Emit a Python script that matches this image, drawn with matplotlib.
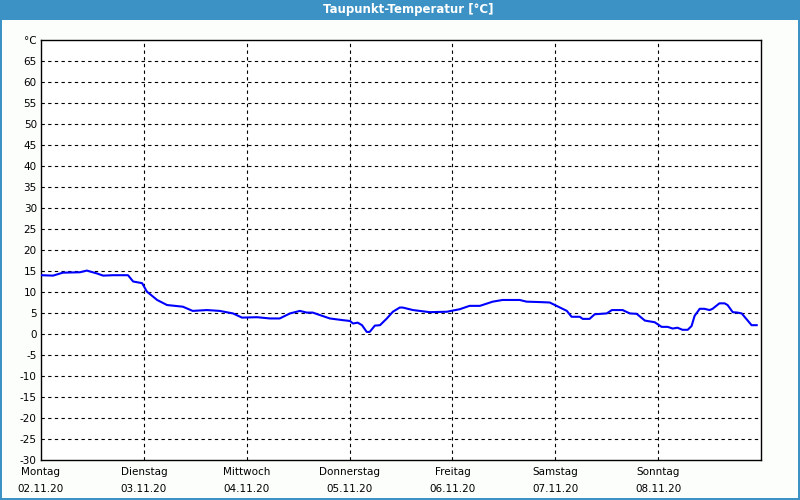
import matplotlib
matplotlib.use("Agg")
import matplotlib.pyplot as plt
from matplotlib.patches import Rectangle

# dew point readings, hours since Monday 00:00
hours = [0, 2.8, 5.1, 9.1, 10.7, 13.1, 14.5, 16.8, 20.3, 21.5, 23.6, 24.7, 27.1, 29.4,
         33.1, 35.4, 38.7, 41.7, 44.8, 46.9, 50.4, 53.4, 55.7, 58.1, 60.4, 62.0, 63.4,
         65.1, 67.4, 70.4, 72.1, 72.8, 73.9, 74.9, 76.0, 76.7, 77.9, 79.1, 80.7, 82.1,
         83.7, 84.4, 86.8, 90.7, 94.7, 97.7, 100.0, 102.4, 105.4, 107.7, 111.7, 113.3,
         116.4, 118.7, 120.3, 122.7, 123.8, 125.7, 126.4, 128.0, 129.2, 132.0, 133.2,
         135.7, 137.4, 139.0, 140.9, 143.2, 144.8, 146.2, 147.4, 148.5, 149.7, 150.9,
         151.8, 152.5, 153.7, 154.8, 156.0, 156.7, 158.3, 159.5, 160.2, 161.4, 162.5,
         163.5, 165.8, 167.0]
dewpoint = [14.0, 13.9, 14.6, 14.7, 15.1, 14.4, 13.9, 14.0, 14.0, 12.5, 12.1, 10.1, 8.1,
            6.9, 6.5, 5.5, 5.7, 5.5, 4.9, 3.9, 4.0, 3.7, 3.7, 4.9, 5.5, 5.1, 5.1, 4.5,
            3.7, 3.3, 3.1, 2.5, 2.7, 2.1, 0.5, 0.5, 2.0, 2.1, 3.7, 5.3, 6.3, 6.3, 5.7,
            5.2, 5.3, 5.9, 6.7, 6.7, 7.7, 8.1, 8.1, 7.7, 7.6, 7.5, 6.7, 5.5, 4.1, 4.1,
            3.6, 3.6, 4.7, 4.9, 5.7, 5.7, 4.9, 4.8, 3.2, 2.8, 1.7, 1.7, 1.3, 1.5, 1.0,
            1.0, 1.9, 4.3, 6.0, 6.0, 5.7, 6.0, 7.3, 7.3, 6.9, 5.2, 5.1, 4.9, 2.1, 2.1]

day_names = ["Montag", "Dienstag", "Mittwoch", "Donnerstag", "Freitag", "Samstag", "Sonntag"]
day_dates = ["02.11.20", "03.11.20", "04.11.20", "05.11.20", "06.11.20", "07.11.20", "08.11.20"]
y_ticks = list(range(-30, 75, 5))

fig = plt.figure(figsize=(8, 5), dpi=100, facecolor="#fcfefc")
fig.patch.set_edgecolor("#3c92c4")
fig.patch.set_linewidth(1.5)

# title bar
fig.patches.append(Rectangle((0, 1 - 20 / 500), 1, 20 / 500, transform=fig.transFigure,
                             facecolor="#3c92c4", edgecolor="none", zorder=0))
fig.text(0.51, 1 - 10 / 500, "Taupunkt-Temperatur [°C]", color="white", fontsize=8.5,
         fontweight="bold", ha="center", va="center")

ax = fig.add_axes([41 / 800, 40 / 500, 720 / 800, 420 / 500])
ax.set_facecolor("white")
ax.plot(hours, dewpoint, color="#0000ff", linewidth=1.5, zorder=3)

ax.set_xlim(0, 168)
ax.set_ylim(-30, 70)

ax.set_yticks(y_ticks)
ax.set_yticklabels([str(v) for v in y_ticks[:-1]] + ["°C"])
ax.set_xticks([24 * i for i in range(7)])
ax.set_xticklabels([n + "\n" + d for n, d in zip(day_names, day_dates)], linespacing=1.9)
ax.tick_params(length=0, labelsize=7.5, pad=3)
ax.tick_params(axis="x", pad=5)

for v in y_ticks[1:-1]:
    ax.axhline(v, color="black", linewidth=0.8, linestyle=(0, (3, 3)), zorder=1)
for i in range(1, 7):
    ax.axvline(24 * i, color="black", linewidth=0.8, linestyle=(0, (3, 3)), zorder=1)

for s in ax.spines.values():
    s.set_linewidth(1)
    s.set_color("black")

fig.savefig("out.png", dpi=100, facecolor=fig.get_facecolor(), edgecolor=fig.patch.get_edgecolor())
